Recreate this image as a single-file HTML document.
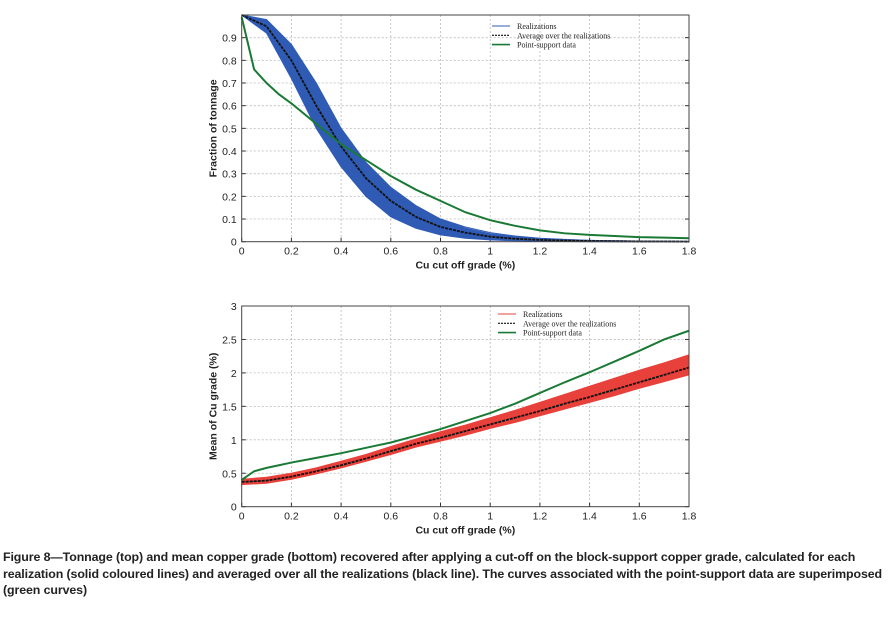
<!DOCTYPE html>
<html><head><meta charset="utf-8"><style>
body{margin:0;background:#fff;width:891px;height:627px;overflow:hidden;position:relative;font-family:"Liberation Sans",sans-serif}
#cap{position:absolute;left:3px;top:549px;width:888px;font-size:12.4px;font-weight:bold;line-height:16.5px;color:#222;white-space:nowrap;letter-spacing:-0.1px}
svg{position:absolute;left:0;top:0}
</style></head><body>
<svg id="s" width="891" height="627"></svg>
<div id="cap">Figure 8—Tonnage (top) and mean copper grade (bottom) recovered after applying a cut-off on the block-support copper grade, calculated for each<br>realization (solid coloured lines) and averaged over all the realizations (black line). The curves associated with the point-support data are superimposed<br>(green curves)</div>
<script>
const xs=[0,0.1,0.2,0.3,0.4,0.5,0.6,0.7,0.8,0.9,1.0,1.1,1.2,1.3,1.4,1.5,1.6,1.7,1.8];
const tonMean=[1.0,0.95,0.8,0.6,0.42,0.28,0.18,0.11,0.065,0.04,0.022,0.013,0.008,0.005,0.003,0.002,0.001,0.001,0];
const tonUpper=[1.0,0.98,0.87,0.7,0.5,0.35,0.24,0.16,0.1,0.06,0.035,0.022,0.014,0.009,0.006,0.004,0.003,0.002,0.002];
const tonLower=[1.0,0.92,0.72,0.5,0.33,0.2,0.11,0.06,0.03,0.015,0.008,0.004,0.002,0.001,0,0,0,0,0];
const tonOutlier=[1.0,0.93,0.75,0.55,0.4,0.3,0.22,0.15,0.1,0.065,0.04,0.025,0.015,0.01,0.006,0.004,0.003,0.002,0.001];
const gxs=[0,0.05,0.1,0.15,0.2,0.3,0.4,0.5,0.6,0.7,0.8,0.9,1.0,1.1,1.2,1.3,1.4,1.5,1.6,1.7,1.8];
const tonPoint=[0.99,0.76,0.70,0.65,0.61,0.52,0.43,0.36,0.29,0.23,0.18,0.13,0.095,0.07,0.05,0.037,0.03,0.025,0.02,0.018,0.015];
const grMean=[0.37,0.39,0.45,0.53,0.62,0.72,0.83,0.94,1.03,1.13,1.23,1.33,1.43,1.54,1.64,1.75,1.86,1.97,2.08];
const grUpper=[0.41,0.44,0.5,0.58,0.68,0.78,0.9,1.01,1.12,1.22,1.33,1.44,1.56,1.68,1.8,1.92,2.04,2.15,2.27];
const grLower=[0.33,0.35,0.41,0.49,0.58,0.68,0.78,0.89,0.98,1.07,1.17,1.26,1.36,1.46,1.56,1.66,1.77,1.87,1.97];
const grPoint=[0.4,0.53,0.58,0.62,0.66,0.73,0.8,0.88,0.96,1.06,1.16,1.28,1.4,1.54,1.7,1.86,2.01,2.17,2.33,2.5,2.63];
const xTicks=[0,0.2,0.4,0.6,0.8,1,1.2,1.4,1.6,1.8];
const yTicksTop=[0,0.1,0.2,0.3,0.4,0.5,0.6,0.7,0.8,0.9];
const yTicksBot=[0,0.5,1,1.5,2,2.5,3];
const S=document.getElementById('s'),NS='http://www.w3.org/2000/svg';
function el(t,a,p){const e=document.createElementNS(NS,t);for(const k in a)e.setAttribute(k,a[k]);(p||S).appendChild(e);return e;}
function chart(top,bot,ymax,yTicks,ylab,o){
 const X0=241.7,X1=689;
 const sx=v=>X0+(X1-X0)*v/1.8, sy=v=>bot-(bot-top)*v/ymax;
 const g=el('g',{});
 
 
 xTicks.forEach(t=>{if(t>0&&t<1.8)el('line',{x1:sx(t),x2:sx(t),y1:top,y2:bot,stroke:'#bbb','stroke-dasharray':'2,2','stroke-width':0.8},g);
  el('line',{x1:sx(t),x2:sx(t),y1:bot,y2:bot-4,stroke:'#333'},g);
  const tx=el('text',{x:sx(t),y:bot+13,'text-anchor':'middle','font-size':10.5,fill:'#222'},g);tx.textContent=String(t);
  
  });
 yTicks.forEach(t=>{if(t>0&&t<ymax)el('line',{x1:X0,x2:X1,y1:sy(t),y2:sy(t),stroke:'#bbb','stroke-dasharray':'2,2','stroke-width':0.8},g);
  el('line',{x1:X0,x2:X0+4,y1:sy(t),y2:sy(t),stroke:'#333'},g);el('line',{x1:X1,x2:X1-4,y1:sy(t),y2:sy(t),stroke:'#333'},g);
  const ty=el('text',{x:X0-5,y:sy(t)+4,'text-anchor':'end','font-size':10.5,fill:'#222'},g);ty.textContent=String(t);
  
  });
 const band=xs.map((x,i)=>sx(x)+','+sy(o.up[i])).concat(xs.map((x,i)=>sx(x)+','+sy(o.lo[i])).reverse()).join(' ');
 const b=el('polygon',{points:band,fill:o.col,stroke:o.col,'stroke-width':1},g);
 
 
 const line=(X,Y,a)=>el('polyline',Object.assign({points:X.map((x,i)=>sx(x)+','+sy(Y[i])).join(' '),fill:'none'},a),g);
 if(o.out){const l=line(xs,o.out,{stroke:o.col,'stroke-width':1});
  
  }
 const m=line(xs,o.mean,{stroke:'#111','stroke-width':1.8,'stroke-dasharray':'3,1'});
 
 
 const p=line(gxs,o.pt,{stroke:'#1a7a35','stroke-width':2});
 
 
 el('rect',{x:X0,y:top,width:X1-X0,height:bot-top,fill:'none',stroke:'#444','stroke-width':1},g);
 const xl=el('text',{x:(X0+X1)/2,y:bot+27,'text-anchor':'middle','font-size':10.5,'font-weight':'bold',fill:'#222'},g);xl.textContent='Cu cut off grade (%)';
 
 
 const yl=el('text',{x:0,y:0,transform:`translate(${X0-25},${(top+bot)/2}) rotate(-90)`,'text-anchor':'middle','font-size':10.5,'font-weight':'bold',fill:'#222'},g);yl.textContent=ylab;
 
 
 const L=o.leg;
 [['Realizations',o.col,false,1],['Average over the realizations','#111',true,1.2],['Point-support data','#1a7a35',false,1.6]].forEach((e,i)=>{
  const yy=L.y+i*9.3;
  const lg=el('g',{},g);
  
  
  el('line',{x1:L.x,x2:L.x+18,y1:yy,y2:yy,stroke:e[1],'stroke-width':e[3],'stroke-dasharray':e[2]?'2,1':'none'},lg);
  const t=el('text',{x:L.x+25,y:yy+3,'font-size':8,'font-family':'Liberation Serif,serif',fill:'#222'},lg);t.textContent=e[0];});
}
chart(15,241.7,1,yTicksTop,'Fraction of tonnage',{name:'tonnage-chart',col:'#2f5bb5',up:tonUpper,lo:tonLower,mean:tonMean,out:tonOutlier,pt:tonPoint,leg:{x:492,y:26}});
chart(306,506.7,3,yTicksBot,'Mean of Cu grade (%)',{name:'grade-chart',col:'#e8403a',up:grUpper,lo:grLower,mean:grMean,pt:grPoint,leg:{x:498,y:314}});
</script>
</body></html>
